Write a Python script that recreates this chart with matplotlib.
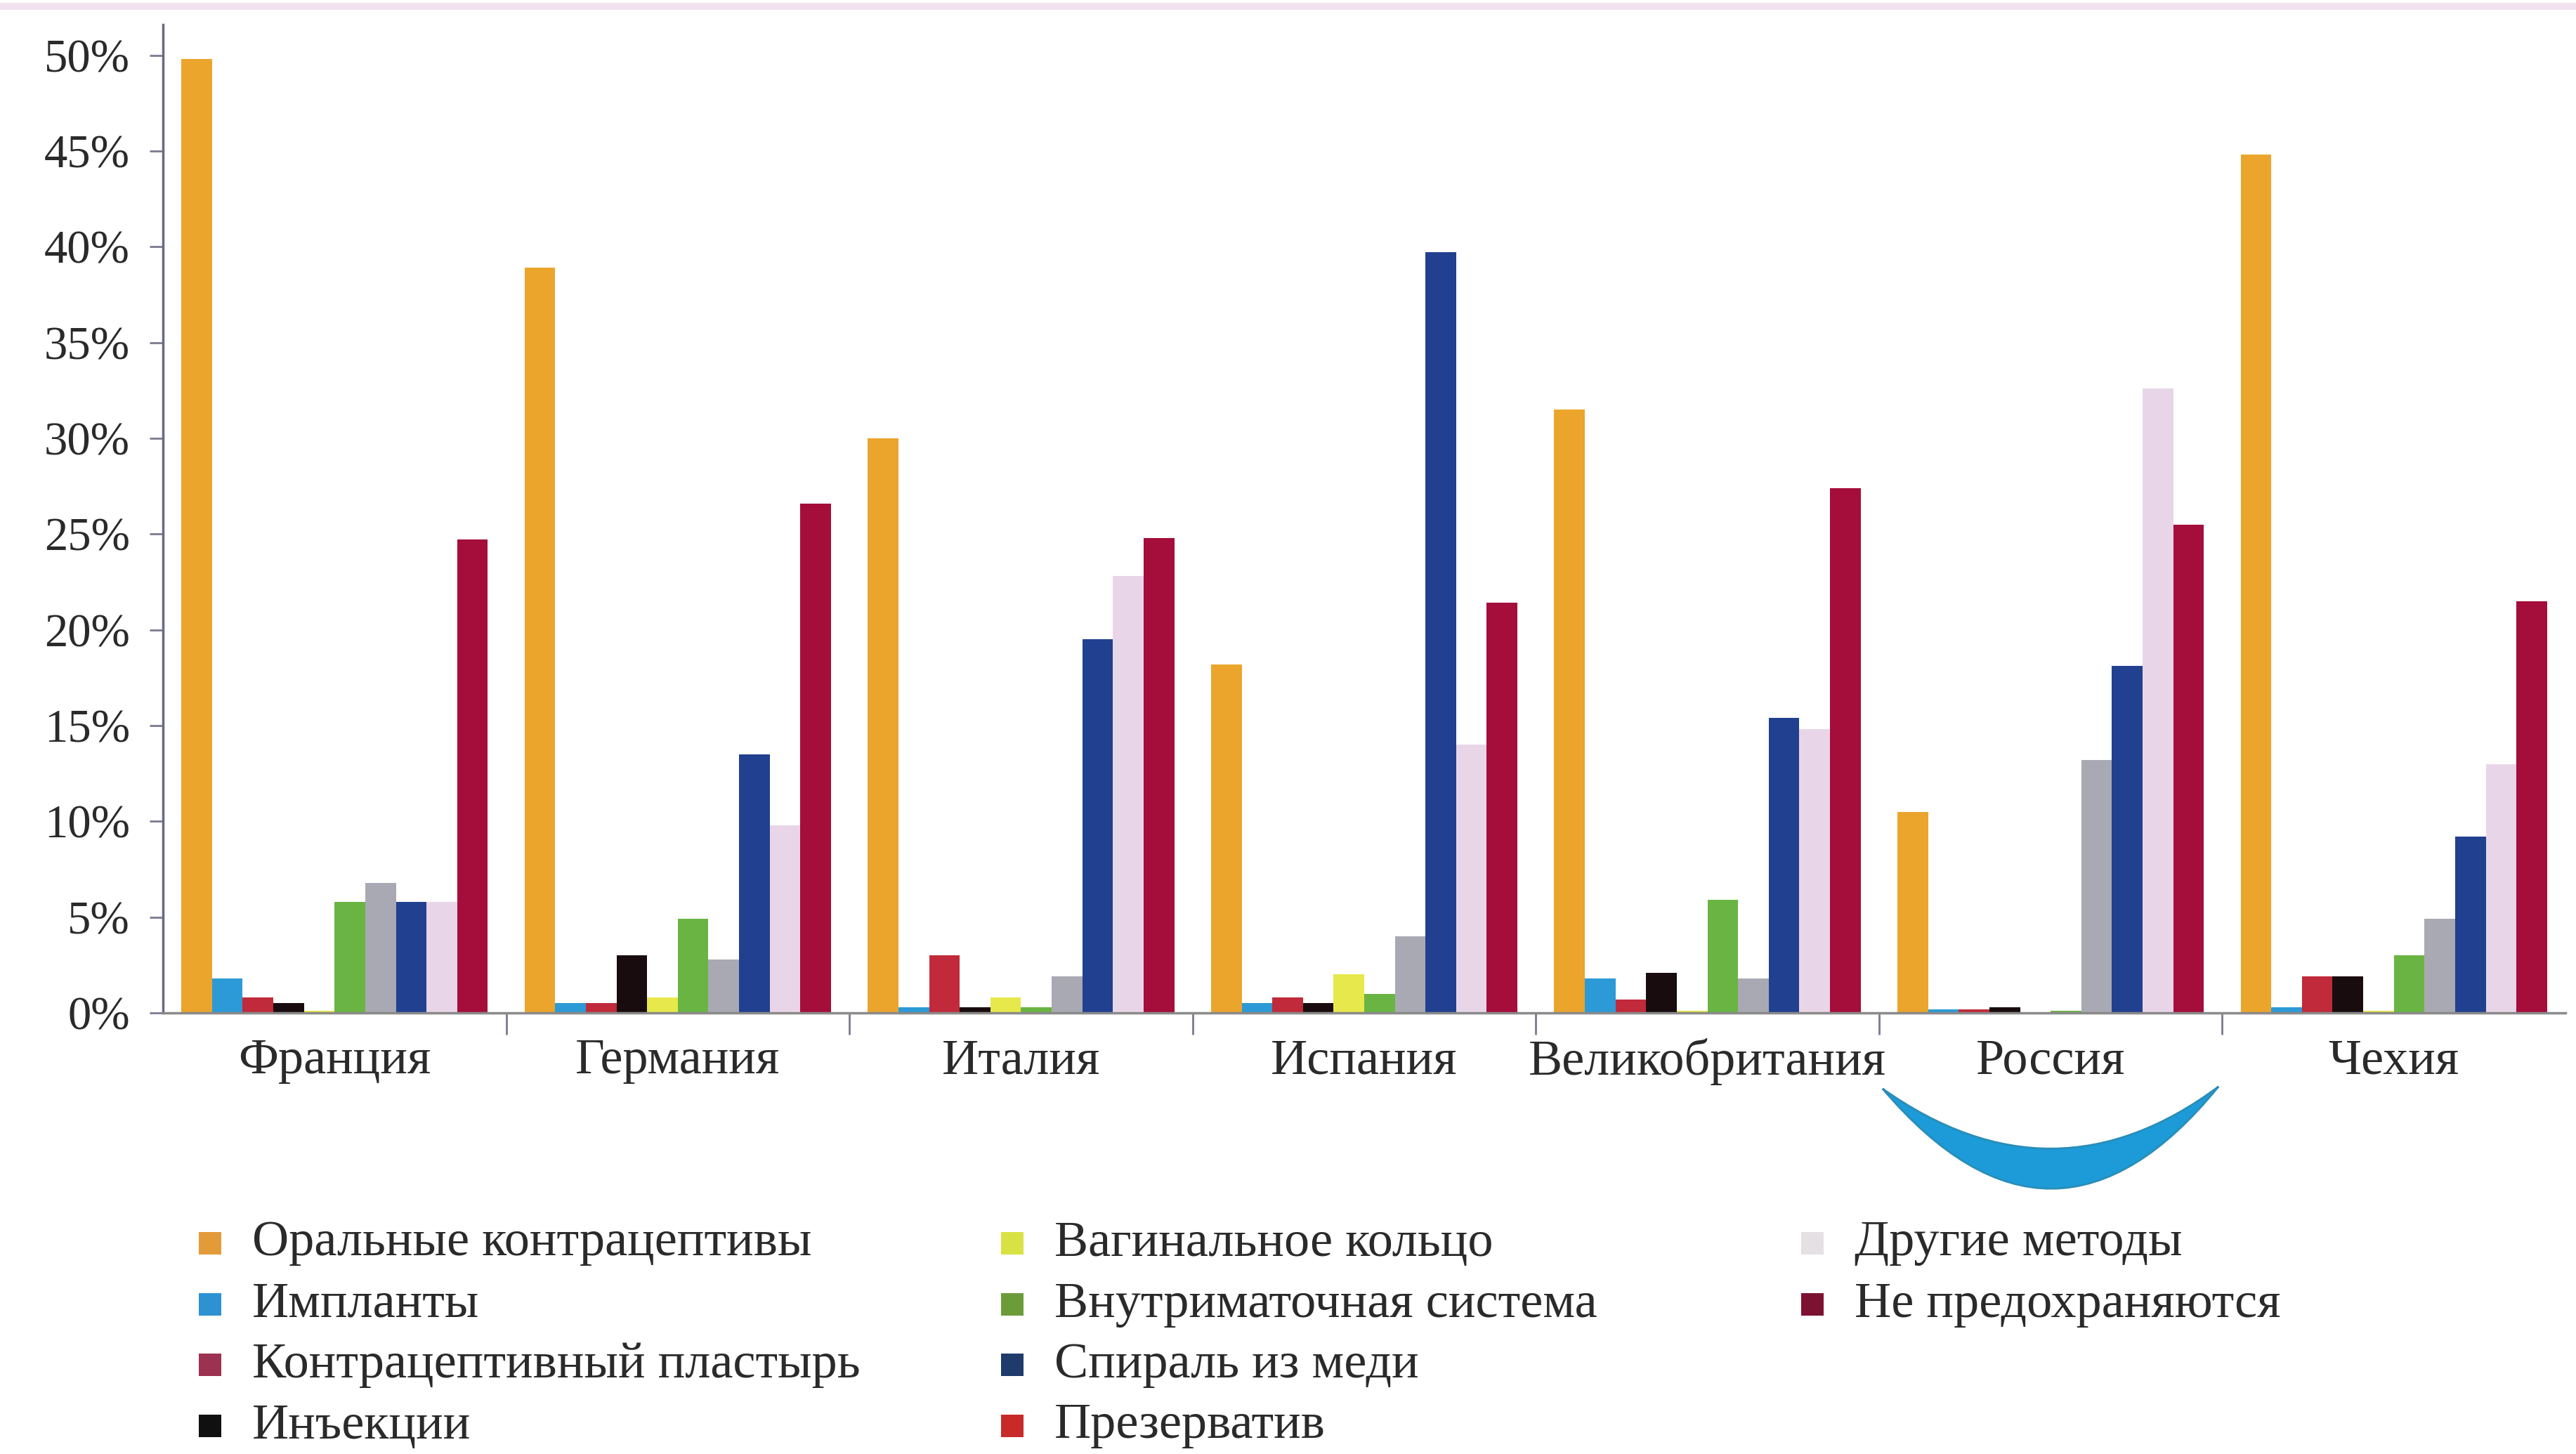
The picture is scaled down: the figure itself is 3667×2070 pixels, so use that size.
import numpy as np
import matplotlib.pyplot as plt
from matplotlib.patches import PathPatch, Rectangle
from matplotlib.path import Path

plt.rcParams['font.family'] = ['Liberation Serif', 'DejaVu Serif']

countries = ['Франция', 'Германия', 'Италия', 'Испания',
             'Великобритания', 'Россия', 'Чехия']

# series in the order the bars stand inside each group (values in %)
methods = ['Оральные контрацептивы', 'Импланты', 'Контрацептивный пластырь',
           'Инъекции', 'Вагинальное кольцо', 'Внутриматочная система',
           'Презерватив', 'Спираль из меди', 'Другие методы',
           'Не предохраняются']
bar_colors = ['#EBA52C', '#2C9AD6', '#C02A3A', '#180C0E', '#E6E84C',
              '#6AB443', '#A9A9B3', '#21408F', '#E8D6E8', '#A50D3A']

oral = [49.8, 38.9, 30.0, 18.2, 31.5, 10.5, 44.8]
implants = [1.8, 0.5, 0.3, 0.5, 1.8, 0.2, 0.3]
patch = [0.8, 0.5, 3.0, 0.8, 0.7, 0.2, 1.9]
injections = [0.5, 3.0, 0.3, 0.5, 2.1, 0.3, 1.9]
ring = [0.1, 0.8, 0.8, 2.0, 0.1, 0.0, 0.1]
ius = [5.8, 4.9, 0.3, 1.0, 5.9, 0.1, 3.0]
condom = [6.8, 2.8, 1.9, 4.0, 1.8, 13.2, 4.9]
copper_iud = [5.8, 13.5, 19.5, 39.7, 15.4, 18.1, 9.2]
other = [5.8, 9.8, 22.8, 14.0, 14.8, 32.6, 13.0]
none = [24.7, 26.6, 24.8, 21.4, 27.4, 25.5, 21.5]
series = [oral, implants, patch, injections, ring, ius, condom,
          copper_iud, other, none]

# legend is laid out in three columns of its own
legend_labels = ['Оральные контрацептивы', 'Импланты',
                 'Контрацептивный пластырь', 'Инъекции',
                 'Вагинальное кольцо', 'Внутриматочная система',
                 'Спираль из меди', 'Презерватив',
                 'Другие методы', 'Не предохраняются']
legend_colors = ['#E39B3A', '#2E92D2', '#9C3252', '#101010',
                 '#D9E244', '#6C9C3A', '#1F3B6C', '#C82A2A',
                 '#E4E0E4', '#7C1232']

W, H = 3667, 2070
fig = plt.figure(figsize=(W / 100, H / 100), dpi=100)
ax = fig.add_axes([232 / W, 628 / H, 3420 / W, 1407 / H])

n = len(series)
w = 1.0 / (n + 1.2)
for j, vals in enumerate(series):
    x = np.arange(len(countries)) + 0.6 * w + (j + 0.5) * w
    ax.bar(x, vals, width=w, color=bar_colors[j], linewidth=0)

ax.set_xlim(0, len(countries))
ax.set_ylim(0, 51.6)

text_color = '#2A2A2A'
yt = np.arange(0, 51, 5)
ax.set_yticks(yt)
ax.set_yticklabels(['%d%%' % v for v in yt], fontsize=48, color=text_color)
ax.tick_params(axis='y', length=14, width=2, color='#7A7A90', pad=20)

ax.set_xticks(np.arange(1, len(countries)))
ax.set_xticklabels([])
ax.tick_params(axis='x', which='major', length=22, width=2,
               color='#7A7A90', direction='out')
ax.set_xticks(np.arange(len(countries)) + 0.5, minor=True)
ax.set_xticklabels(countries, minor=True, fontsize=52, color=text_color)
ax.tick_params(axis='x', which='minor', length=0, pad=26)

for s in ['top', 'right']:
    ax.spines[s].set_visible(False)
ax.spines['left'].set_color('#6A6A82')
ax.spines['left'].set_linewidth(2.5)
ax.spines['bottom'].set_color('#8A8A8A')
ax.spines['bottom'].set_linewidth(2.5)

# legend drawn by hand: columns of 4, 4 and 2 entries
col_x = [299, 1441, 2580]
row_y = [1770, 1857, 1943, 2030]
per_col = [4, 4, 2]
k = 0
for c, cnt in enumerate(per_col):
    for r in range(cnt):
        sq = 32
        fig.patches.append(Rectangle(((col_x[c] - sq / 2) / W, (H - row_y[r] - sq / 2) / H),
                                     sq / W, sq / H, transform=fig.transFigure,
                                     color=legend_colors[k], linewidth=0))
        fig.text((col_x[c] + 60) / W, (H - row_y[r]) / H, legend_labels[k],
                 fontsize=52, color=text_color, va='center', ha='left')
        k += 1

# blue swoosh under the chart
def fy(y):
    return (H - y) / H


verts = [(2680 / W, fy(1550)), (2923 / W, fy(1722)), (3158 / W, fy(1547)),
         (2923 / W, fy(1836)), (2680 / W, fy(1550)), (2680 / W, fy(1550))]
codes = [Path.MOVETO, Path.CURVE3, Path.CURVE3, Path.CURVE3, Path.CURVE3,
         Path.CLOSEPOLY]
fig.patches.append(PathPatch(Path(verts, codes), transform=fig.transFigure,
                             facecolor='#1C9BD8', edgecolor='#2A8DB8',
                             linewidth=2))

# thin pink rule along the top edge
fig.patches.append(Rectangle((0, fy(14)), 1, 10 / H, transform=fig.transFigure,
                             color='#F2E2EF', linewidth=0))

fig.savefig('out.png', dpi=100, facecolor='white')
